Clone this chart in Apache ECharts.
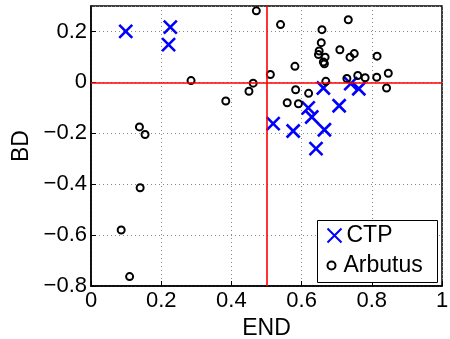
<!DOCTYPE html>
<html><head><meta charset="utf-8">
<script src="https://cdn.jsdelivr.net/npm/echarts@6/dist/echarts.min.js"></script>
<style>html,body{margin:0;padding:0;background:#fff}#c{width:450px;height:339px}</style>
</head><body><div id="c"></div>
<script>
var ctpX = [0.099,0.226,0.221,0.519,0.662,0.740,0.763,0.707,0.619,0.629,0.576,0.665,0.641];
var ctpY = [0.200,0.217,0.148,-0.162,-0.022,-0.005,-0.025,-0.092,-0.100,-0.136,-0.191,-0.186,-0.260];
var arbX = [0.471,0.540,0.285,0.511,0.462,0.450,0.384,0.138,0.154,0.140,0.086,0.110,0.733,0.658,0.656,0.650,0.648,0.667,0.662,0.665,0.709,0.738,0.750,0.815,0.847,0.814,0.781,0.760,0.729,0.669,0.842,0.581,0.583,0.620,0.559,0.591];
var arbY = [0.281,0.227,0.007,0.031,-0.003,-0.035,-0.073,-0.175,-0.205,-0.414,-0.580,-0.763,0.246,0.207,0.156,0.123,0.109,0.099,0.080,0.073,0.128,0.099,0.113,0.103,0.036,0.020,0.018,0.027,0.015,0.004,-0.022,0.063,-0.029,-0.043,-0.080,-0.084];
var xTicks = [0,0.2,0.4,0.6,0.8,1];
var yTicks = [-0.8,-0.6,-0.4,-0.2,0,0.2];
function zip(a,b){return a.map(function(v,i){return [v,b[i]];});}
function fmt(v){var s=(Math.round(v*10)/10).toString();return s.replace('-','\u2212');}
var font = 'Liberation Sans';
var chart = echarts.init(document.getElementById('c'));
var axisCommon = {
  axisLine:{show:true,onZero:false,lineStyle:{color:'#000',width:1.5}},
  axisTick:{show:true,inside:true,length:5,lineStyle:{color:'#000'}},
  splitLine:{show:true,lineStyle:{color:'#888',type:[1,3],width:1}}
};
chart.setOption({
  animation:false,
  textStyle:{fontFamily:font},
  grid:{left:91,right:8,top:6,bottom:53,outerBoundsMode:'none',containLabel:false,show:true,borderColor:'#000',borderWidth:1.5,backgroundColor:'transparent'},
  xAxis:Object.assign({type:'value',min:0,max:1,interval:0.2,name:'END',nameLocation:'middle',nameGap:28,
    nameTextStyle:{fontSize:23,color:'#000',fontFamily:font},
    axisLabel:{fontSize:22,color:'#000',margin:4,fontFamily:font,formatter:function(v){return fmt(v);}}},axisCommon),
  yAxis:Object.assign({type:'value',min:-0.8,max:0.3,interval:0.2,name:'BD',nameLocation:'middle',nameGap:58,
    nameTextStyle:{fontSize:23,color:'#000',fontFamily:font},
    axisLabel:{fontSize:22,color:'#000',margin:4,fontFamily:font,showMaxLabel:false,formatter:function(v){return v>0.25?'':fmt(v);}}},axisCommon),
  graphic:[{type:'rect',left:317,top:220,z:50,shape:{width:120,height:62},style:{fill:'#fff',stroke:'#000',lineWidth:1}}],
  legend:[
    {left:325,top:224,padding:0,itemWidth:18,itemHeight:14,itemGap:6,z:60,
      textStyle:{fontSize:23,color:'#000',fontFamily:font,padding:[0,0,0,-2]},data:['CTP']},
    {left:325,top:254,padding:0,itemWidth:18,itemHeight:8,itemGap:6,z:60,
      textStyle:{fontSize:23,color:'#000',fontFamily:font,padding:[0,0,0,-2]},data:[{name:'Arbutus',itemStyle:{borderWidth:2}}]}
  ],
  series:[
    {type:'scatter',name:'ref',silent:true,data:[],z:1,
      markLine:{silent:true,symbol:'none',label:{show:false},animation:false,
        lineStyle:{color:'#ff0000',width:1.6,type:'solid'},
        data:[{xAxis:0.5},{yAxis:0}]}},
    {type:'scatter',name:'CTP',z:3,data:zip(ctpX,ctpY),symbol:'path://M0,0L10,10M10,0L0,10',symbolSize:13,
      itemStyle:{color:'none',borderColor:'#0000ff',borderWidth:2.6,opacity:1}},
    {type:'scatter',name:'Arbutus',z:4,data:zip(arbX,arbY),symbol:'circle',symbolSize:7,
      itemStyle:{color:'none',borderColor:'#000',borderWidth:2,opacity:1}}
  ]
});
</script></body></html>
